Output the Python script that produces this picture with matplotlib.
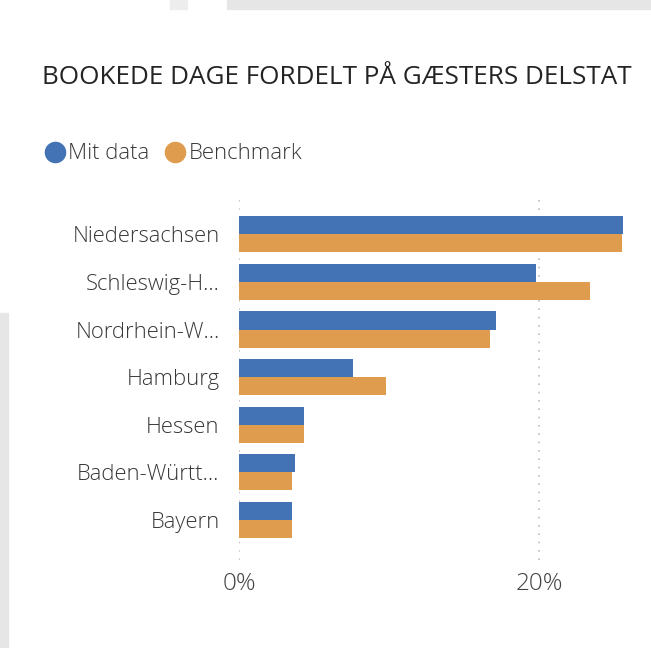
import matplotlib.pyplot as plt
from matplotlib.lines import Line2D
from matplotlib.patches import Rectangle
import numpy as np

states = ['Niedersachsen', 'Schleswig-H…', 'Nordrhein-W…', 'Hamburg',
          'Hessen', 'Baden-Württ…', 'Bayern']
mit_data = [25.6, 19.8, 17.1, 7.6, 4.3, 3.7, 3.5]
benchmark = [25.5, 23.4, 16.7, 9.8, 4.3, 3.5, 3.5]
xticks = [0, 20]
xticklabels = ['0%', '20%']

BLUE = '#4473B5'
ORANGE = '#DF9C4F'
FONT = 'Open Sans'

plt.rcParams['font.family'] = [FONT, 'DejaVu Sans']

fig = plt.figure(figsize=(6.51, 6.48), dpi=100)

# grey bits of the surrounding page
fig.patches.append(Rectangle((227/651, 1 - 9/648), 1, 9/648, transform=fig.transFigure,
                             color='#e6e6e6', zorder=0))
fig.patches.append(Rectangle((170/651, 1 - 9/648), 17/651, 9/648, transform=fig.transFigure,
                             color='#ededed', zorder=0))
fig.patches.append(Rectangle((0, 0), 8/651, 1 - 313/648, transform=fig.transFigure,
                             color='#e6e6e6', zorder=0))

ax = fig.add_axes([239/651, 1 - 560/648, 396/651, 360/648])

y = np.arange(len(states))
h = 0.38
ax.barh(y - h/2, mit_data, height=h, color=BLUE, zorder=3)
ax.barh(y + h/2, benchmark, height=h, color=ORANGE, zorder=3)

ax.set_ylim(6.84, -0.72)
ax.set_xlim(0, 26.4)
ax.set_yticks(y)
ax.set_yticklabels(states, fontsize=15.8, color='#383838', fontweight='light')
ax.set_xticks(xticks)
ax.set_xticklabels(xticklabels, fontsize=17.5, color='#444444', fontweight='light')
ax.tick_params(length=0)
ax.tick_params(axis='y', pad=14)
ax.tick_params(axis='x', pad=9)
ax.grid(axis='x', linestyle=(0, (1, 4)), color='#bdbdbd', linewidth=1.2, zorder=0)
for s in ax.spines.values():
    s.set_visible(False)

fig.text(42/651, 1 - 78/648, 'BOOKEDE DAGE FORDELT PÅ GÆSTERS DELSTAT',
         fontsize=18.8, color='#252423', va='center', ha='left')

handles = [Line2D([], [], marker='o', linestyle='', markersize=14.5, color=BLUE),
           Line2D([], [], marker='o', linestyle='', markersize=14.5, color=ORANGE)]
fig.legend(handles, ['Mit data', 'Benchmark'], loc='center left',
           bbox_to_anchor=(22/651, 1 - 154/648), ncol=2, frameon=False,
           handletextpad=0.0, columnspacing=0.55,
           handlelength=1.2, labelcolor='#383838',
           prop={'family': [FONT, 'DejaVu Sans'], 'weight': 'light', 'size': 15.9})

fig.savefig('out.png', dpi=100)
